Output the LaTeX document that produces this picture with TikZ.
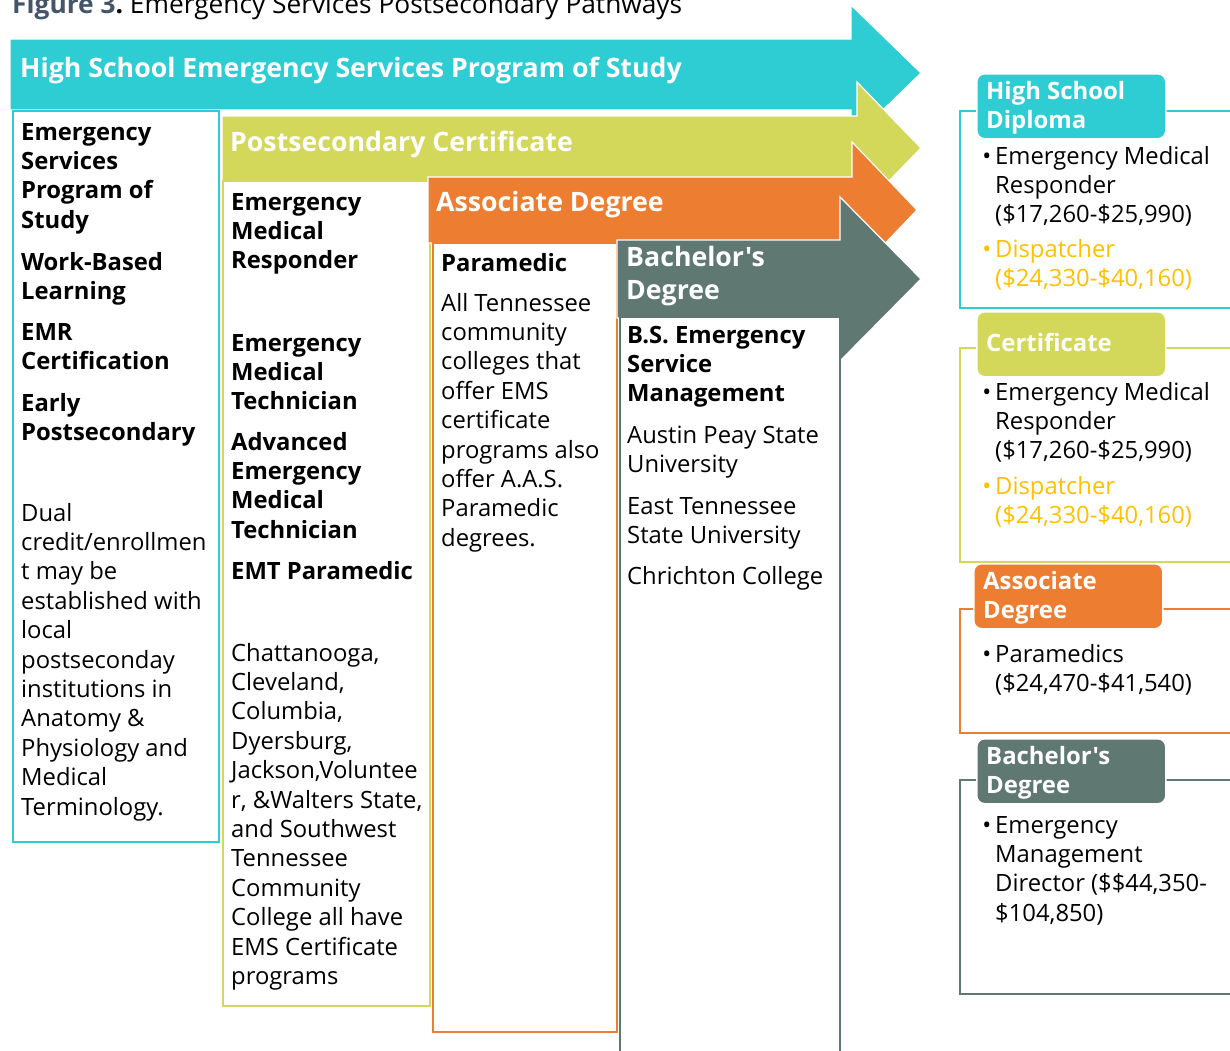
\documentclass[tikz,border=0pt]{standalone}
\usepackage{fontspec}
\setmainfont{Open Sans}[Ligatures=TeXOff]
\definecolor{cTeal}{HTML}{2ECCD3}
\definecolor{cLime}{HTML}{D3D75A}
\definecolor{cOrange}{HTML}{ED7D31}
\definecolor{cGray}{HTML}{5F7872}
\definecolor{cGold}{HTML}{FFC000}
\definecolor{cSlate}{HTML}{44546A}
\newcommand\ML[2][29.4]{\vtop{\baselineskip=#1pt\lineskip=0pt\lineskiplimit=-100pt\relax #2}}
\newcommand\LN[1]{\hbox{#1}}
\newcommand\BL{\llap{\textbullet\hspace{4pt}}}
\begin{document}
\begin{tikzpicture}[x=1pt,y=-1pt,
  arrshape/.style={draw=white, line width=1.2pt},
  colbox/.style={fill=white, line width=2.4pt},
  bodytxt/.style={anchor=base west, inner sep=0pt, font=\fontsize{23.8}{29.4}\selectfont},
  boldtxt/.style={bodytxt, font=\bfseries\fontsize{23.8}{29.4}\selectfont},
  headtxt/.style={anchor=base west, inner sep=0pt, text=white, font=\bfseries\fontsize{26.7}{33}\selectfont},
  lblbox/.style={anchor=north west, draw=white, line width=1.5pt, rounded corners=8pt, inner sep=0pt, minimum width=189pt, minimum height=65pt},
  lbltxt/.style={anchor=base west, inner sep=0pt, text=white, font=\bfseries\fontsize{23.9}{29.4}\selectfont},
  panelframe/.style={line width=2.4pt},
]
\useasboundingbox (0,0) rectangle (1230,1050);

% title
\node[anchor=base west, inner sep=0pt, font=\fontsize{26.3}{30}\selectfont] (title) at (12,13)
  {\textbf{\textcolor{cSlate}{Figure 3}.}~Emergency Services Postsecondary Pathways};

% teal arrow and column
\path[arrshape, fill=cTeal] (10,39) -- (851,39) -- (851,5) -- (921,73) -- (851,141) -- (851,110) -- (10,110) -- cycle;
\draw[colbox, draw=cTeal] (13,111) rectangle (219,842);
% lime
\path[arrshape, fill=cLime] (222,116) -- (857,116) -- (857,82) -- (921,148) -- (857,214) -- (857,181) -- (222,181) -- cycle;
\draw[colbox, draw=cLime] (223,181) rectangle (430,1006);
% orange
\path[arrshape, fill=cOrange] (428,177) -- (852,177) -- (852,142) -- (917,210) -- (852,278) -- (852,243) -- (428,243) -- cycle;
\draw[colbox, draw=cOrange] (433,243) rectangle (617,1032);
% gray
\path[arrshape, fill=cGray] (617,240) -- (840,240) -- (840,197) -- (921,279) -- (840,361) -- (840,318) -- (617,318) -- cycle;
\draw[colbox, draw=cGray] (620,317) rectangle (840,1065);

% headings
\node[headtxt] (h1) at (20,77) {High School Emergency Services Program of Study};
\node[headtxt] (h2) at (230,151) {Postsecondary Certificate};
\node[headtxt] (h3) at (436,211) {Associate Degree};
\node[headtxt] (h4) at (626,266) {\ML[33]{\LN{Bachelor's}\LN{Degree}}};

% column 1
\node[boldtxt] (c1a) at (21,140) {\ML{\LN{Emergency}\LN{Services}\LN{Program of}\LN{Study}}};
\node[boldtxt] (c1b) at (21,270) {\ML{\LN{Work-Based}\LN{Learning}}};
\node[boldtxt] (c1c) at (21,340) {\ML{\LN{EMR}\LN{Certification}}};
\node[boldtxt] (c1d) at (21,411) {\ML{\LN{Early}\LN{Postsecondary}}};
\node[bodytxt] (c1e) at (21,521) {\ML{\LN{Dual}\LN{credit/enrollmen}\LN{t may be}\LN{established with}\LN{local}\LN{postseconday}\LN{institutions in}\LN{Anatomy \&}\LN{Physiology and}\LN{Medical}\LN{Terminology.}}};

% column 2
\node[boldtxt] (c2a) at (231,210) {\ML{\LN{Emergency}\LN{Medical}\LN{Responder}}};
\node[boldtxt] (c2b) at (231,351) {\ML{\LN{Emergency}\LN{Medical}\LN{Technician}}};
\node[boldtxt] (c2c) at (231,450) {\ML{\LN{Advanced}\LN{Emergency}\LN{Medical}\LN{Technician}}};
\node[boldtxt] (c2d) at (231,579) {EMT Paramedic};
\node[bodytxt] (c2e) at (231,661) {\ML{\LN{Chattanooga,}\LN{Cleveland,}\LN{Columbia,}\LN{Dyersburg,}\LN{Jackson,Voluntee}\LN{r, \&Walters State,}\LN{and Southwest}\LN{Tennessee}\LN{Community}\LN{College all have}\LN{EMS Certificate}\LN{programs}}};

% column 3
\node[boldtxt] (c3a) at (441,271) {Paramedic};
\node[bodytxt] (c3b) at (441,311) {\ML{\LN{All Tennessee}\LN{community}\LN{colleges that}\LN{offer EMS}\LN{certificate}\LN{programs also}\LN{offer A.A.S.}\LN{Paramedic}\LN{degrees.}}};

% column 4
\node[boldtxt] (c4a) at (627,343) {\ML{\LN{B.S. Emergency}\LN{Service}\LN{Management}}};
\node[bodytxt] (c4b) at (627,443) {\ML{\LN{Austin Peay State}\LN{University}}};
\node[bodytxt] (c4c) at (627,514) {\ML{\LN{East Tennessee}\LN{State University}}};
\node[bodytxt] (c4d) at (627,584) {Chrichton College};

% right panels
\draw[panelframe, cTeal] (1240,111) -- (960,111) -- (960,308) -- (1240,308);
\node[lblbox, fill=cTeal] (L1) at (976,73) {};
\node[lbltxt] (L1t) at (986,99) {\ML{\LN{High School}\LN{Diploma}}};
\node[bodytxt] (b1a) at (995,164) {\ML{\LN{\BL Emergency Medical}\LN{Responder}\LN{(\$17,260-\$25,990)}}};
\node[bodytxt, text=cGold] (b1b) at (995,257) {\ML{\LN{\BL Dispatcher}\LN{(\$24,330-\$40,160)}}};

\draw[panelframe, cLime] (1240,348) -- (960,348) -- (960,562) -- (1240,562);
\node[lblbox, fill=cLime] (L2) at (976,311) {};
\node[lbltxt] (L2t) at (986,351) {Certificate};
\node[bodytxt] (b2a) at (995,400) {\ML{\LN{\BL Emergency Medical}\LN{Responder}\LN{(\$17,260-\$25,990)}}};
\node[bodytxt, text=cGold] (b2b) at (995,494) {\ML{\LN{\BL Dispatcher}\LN{(\$24,330-\$40,160)}}};

\draw[panelframe, cOrange] (1240,609) -- (960,609) -- (960,733) -- (1240,733);
\node[lblbox, fill=cOrange] (L3) at (973,563) {};
\node[lbltxt] (L3t) at (983,589) {\ML{\LN{Associate}\LN{Degree}}};
\node[bodytxt] (b3a) at (995,662) {\ML{\LN{\BL Paramedics}\LN{(\$24,470-\$41,540)}}};

\draw[panelframe, cGray] (1240,780) -- (960,780) -- (960,994) -- (1240,994);
\node[lblbox, fill=cGray] (L4) at (976,738) {};
\node[lbltxt] (L4t) at (986,764) {\ML{\LN{Bachelor's}\LN{Degree}}};
\node[bodytxt] (b4a) at (995,833) {\ML{\LN{\BL Emergency}\LN{Management}\LN{Director (\$\$44,350-}\LN{\$104,850)}}};
\end{tikzpicture}
\end{document}
